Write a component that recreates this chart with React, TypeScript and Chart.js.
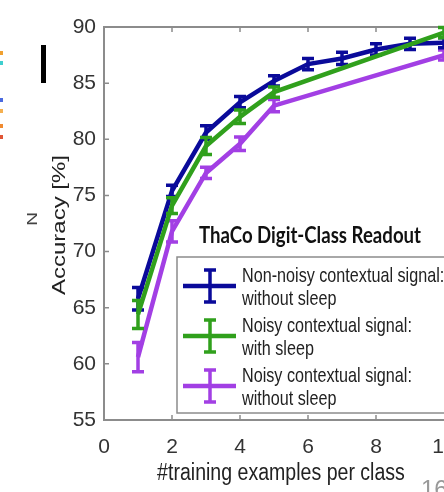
import React, { useEffect, useRef } from "react";
import { Chart, registerables } from "chart.js";

Chart.register(...registerables);

const SANS = "'Liberation Sans', Arial, sans-serif";
const SQUISH = 0.8; // the source picture is horizontally compressed

// ---- data ----
const xFull = [1, 2, 3, 4, 5, 6, 7, 8, 9, 10];
const xSparse = [1, 2, 3, 4, 5, 10];

const nonNoisyNoSleep = [65.8, 75.4, 80.6, 83.3, 85.2, 86.7, 87.2, 88.0, 88.5, 88.6];
const nonNoisyNoSleepErr = [1.0, 0.5, 0.6, 0.5, 0.45, 0.5, 0.55, 0.5, 0.5, 0.45];

const noisyWithSleep = [64.4, 74.1, 79.4, 82.0, 84.2, 89.5];
const noisyWithSleepErr = [1.25, 0.7, 0.75, 0.6, 0.45, 0.45];

const noisyNoSleep = [60.6, 71.8, 77.0, 79.6, 83.0, 87.5];
const noisyNoSleepErr = [1.3, 0.95, 0.5, 0.6, 0.55, 0.45];

const seriesLabels = [
  "Non-noisy contextual signal:\nwithout sleep",
  "Noisy contextual signal:\nwith sleep",
  "Noisy contextual signal:\nwithout sleep",
];
const seriesColors = ["#0a0a9a", "#30a01c", "#a23fe4"];

const legendTitle = "ThaCo Digit-Class Readout";
const xAxisTitle = "#training examples per class";
const yAxisTitle = "Accuracy [%]";
const xMin = 0, xMax = 10, xStep = 2;
const yMin = 55, yMax = 90, yStep = 5;

const FRAME = "#8c8c8c";

const toPoints = (xs: number[], ys: number[]) => xs.map((x, i) => ({ x, y: ys[i] }));

const decorPlugin = {
  id: "decor",
  beforeDatasetsDraw(chart: any) {
    const { ctx, chartArea, scales } = chart;
    const x = scales.x, y = scales.y;
    ctx.save();
    ctx.strokeStyle = FRAME;
    ctx.lineWidth = 2;
    ctx.beginPath();
    ctx.moveTo(chartArea.left - 1, chartArea.top);
    ctx.lineTo(chartArea.right + 40, chartArea.top);
    ctx.stroke();
    ctx.lineWidth = 1.5;
    ctx.beginPath();
    for (let v = yMin + yStep; v < yMax; v += yStep) {
      const py = y.getPixelForValue(v);
      ctx.moveTo(chartArea.left, py);
      ctx.lineTo(chartArea.left + 5, py);
    }
    for (let v = xMin + xStep; v < xMax; v += xStep) {
      const px = x.getPixelForValue(v);
      ctx.moveTo(px, chartArea.top);
      ctx.lineTo(px, chartArea.top + 5);
      ctx.moveTo(px, chartArea.bottom);
      ctx.lineTo(px, chartArea.bottom - 5);
    }
    ctx.stroke();
    ctx.restore();
  },
  afterDatasetDraw(chart: any, args: any) {
    const ds: any = chart.data.datasets[args.index];
    const errs: number[] = ds.errors || [];
    const { ctx, scales } = chart;
    const x = scales.x, y = scales.y;
    ctx.save();
    ctx.strokeStyle = ds.borderColor;
    ctx.lineWidth = 3.5;
    ctx.beginPath();
    ds.data.forEach((p: any, i: number) => {
      const px = x.getPixelForValue(p.x);
      const top = y.getPixelForValue(p.y + errs[i]);
      const bot = y.getPixelForValue(p.y - errs[i]);
      ctx.moveTo(px, top);
      ctx.lineTo(px, bot);
      ctx.moveTo(px - 6, top);
      ctx.lineTo(px + 6, top);
      ctx.moveTo(px - 6, bot);
      ctx.lineTo(px + 6, bot);
    });
    ctx.stroke();
    ctx.restore();
  },
  afterDraw(chart: any) {
    const { ctx } = chart;
    ctx.save();

    // axis titles (drawn narrowed like the source picture)
    ctx.fillStyle = "#222";
    ctx.textAlign = "center";
    ctx.textBaseline = "middle";
    ctx.font = `23px ${SANS}`;
    ctx.save();
    ctx.translate(281, 474);
    ctx.scale(0.85, 1);
    ctx.fillText(xAxisTitle, 0, 0);
    ctx.restore();
    ctx.font = `24px ${SANS}`;
    ctx.save();
    ctx.translate(60, 225);
    ctx.rotate(-Math.PI / 2);
    ctx.scale(1, SQUISH);
    ctx.fillText(yAxisTitle, 0, 0);
    ctx.restore();

    // legend box
    const bx = 177, by = 257, bw = 320, bh = 156;
    ctx.fillStyle = "#ffffff";
    ctx.fillRect(bx, by, bw, bh);
    ctx.strokeStyle = FRAME;
    ctx.lineWidth = 1.5;
    ctx.strokeRect(bx, by, bw, bh);

    // legend title
    ctx.font = "bold 22px Lato, 'Liberation Sans', sans-serif";
    ctx.fillStyle = "#111";
    ctx.textBaseline = "middle";
    ctx.textAlign = "left";
    const tw = ctx.measureText(legendTitle).width;
    ctx.save();
    ctx.translate(199, 236);
    ctx.scale(222 / tw, 1);
    ctx.fillText(legendTitle, 0, 0);
    ctx.restore();

    // legend entries
    chart.data.datasets.forEach((ds: any, i: number) => {
      const cy = 286 + i * 50;
      ctx.strokeStyle = ds.borderColor;
      ctx.lineWidth = 4.5;
      ctx.beginPath();
      ctx.moveTo(183, cy);
      ctx.lineTo(236, cy);
      ctx.stroke();
      ctx.lineWidth = 3.5;
      ctx.beginPath();
      ctx.moveTo(210, cy - 16);
      ctx.lineTo(210, cy + 16);
      ctx.moveTo(204, cy - 16);
      ctx.lineTo(216, cy - 16);
      ctx.moveTo(204, cy + 16);
      ctx.lineTo(216, cy + 16);
      ctx.stroke();
      const lines = String(ds.label).split("\n");
      ctx.font = `21px ${SANS}`;
      ctx.fillStyle = "#222";
      ctx.textBaseline = "middle";
      ctx.textAlign = "left";
      lines.forEach((t: string, k: number) => {
        ctx.save();
        ctx.translate(242, cy - 10 + k * 23);
        ctx.scale(0.77, 1);
        ctx.fillText(t, 0, 0);
        ctx.restore();
      });
    });

    // stray slide fragments around the crop
    ctx.fillStyle = "#000";
    ctx.fillRect(41, 45, 5, 38);
    const dots: [number, string][] = [
      [51, "#f0a030"], [61, "#3fcfcf"], [98, "#4a6ae0"],
      [109, "#f5b050"], [124, "#f08a30"], [135, "#e05535"],
    ];
    dots.forEach(([dy, c]) => {
      ctx.fillStyle = c;
      ctx.fillRect(0, dy, 3, 4);
    });
    ctx.save();
    ctx.translate(33, 219);
    ctx.rotate(-Math.PI / 2);
    ctx.font = `19px ${SANS}`;
    ctx.fillStyle = "#444";
    ctx.textAlign = "center";
    ctx.textBaseline = "middle";
    ctx.scale(1, SQUISH);
    ctx.fillText("N", 0, 0);
    ctx.restore();
    ctx.font = `24px ${SANS}`;
    ctx.fillStyle = "#999";
    ctx.textAlign = "left";
    ctx.textBaseline = "alphabetic";
    ctx.fillText("16", 421, 497);
    ctx.restore();
  },
};

export default function App() {
  const canvasRef = useRef<HTMLCanvasElement | null>(null);

  useEffect(() => {
    if (!canvasRef.current) return;
    const chart = new Chart(canvasRef.current, {
      type: "line",
      data: {
        datasets: [
          {
            label: seriesLabels[0],
            data: toPoints(xFull, nonNoisyNoSleep),
            errors: nonNoisyNoSleepErr,
            borderColor: seriesColors[0],
            backgroundColor: seriesColors[0],
            borderWidth: 4.5,
            pointRadius: 0,
            order: 1,
          } as any,
          {
            label: seriesLabels[1],
            data: toPoints(xSparse, noisyWithSleep),
            errors: noisyWithSleepErr,
            borderColor: seriesColors[1],
            backgroundColor: seriesColors[1],
            borderWidth: 4.5,
            pointRadius: 0,
            order: 0,
          } as any,
          {
            label: seriesLabels[2],
            data: toPoints(xSparse, noisyNoSleep),
            errors: noisyNoSleepErr,
            borderColor: seriesColors[2],
            backgroundColor: seriesColors[2],
            borderWidth: 4.5,
            pointRadius: 0,
            order: 2,
          } as any,
        ],
      },
      options: {
        animation: false,
        responsive: false,
        devicePixelRatio: 1,
        layout: { padding: { left: 0, right: 36, top: 27, bottom: 0 } },
        plugins: {
          legend: { display: false },
          tooltip: { enabled: false },
        },
        scales: {
          x: {
            type: "linear",
            min: xMin,
            max: xMax,
            grid: { display: false, drawTicks: false, tickLength: 0 },
            border: { display: true, color: FRAME, width: 2 },
            ticks: {
              stepSize: xStep,
              padding: 15,
              color: "#333",
              font: { family: SANS, size: 21 },
            },
            title: { display: false, text: xAxisTitle },
            afterFit: (scale: any) => {
              scale.height = 72;
            },
          },
          y: {
            type: "linear",
            min: yMin,
            max: yMax,
            grid: { display: false, drawTicks: false, tickLength: 0 },
            border: { display: true, color: FRAME, width: 2 },
            ticks: {
              stepSize: yStep,
              padding: 8,
              color: "#333",
              font: { family: SANS, size: 21 },
            },
            title: { display: false, text: yAxisTitle },
            afterFit: (scale: any) => {
              scale.width = 104;
            },
          },
        },
      } as any,
      plugins: [decorPlugin],
    });
    return () => chart.destroy();
  }, []);

  return (
    <div
      style={{
        position: "absolute",
        left: 0,
        top: 0,
        width: 444,
        height: 492,
        overflow: "hidden",
        background: "#ffffff",
      }}
    >
      <canvas ref={canvasRef} width={480} height={492} style={{ display: "block" }} />
    </div>
  );
}
